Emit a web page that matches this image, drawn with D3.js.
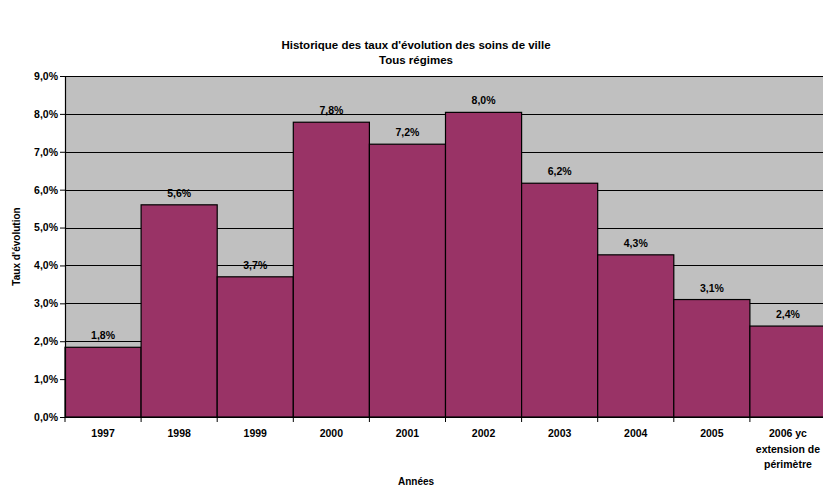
<!DOCTYPE html>
<html>
<head>
<meta charset="utf-8">
<script src="https://cdn.jsdelivr.net/npm/d3@7"></script>
<style>
body { margin: 0; background: #fff; }
svg { font-family: "Liberation Sans", Arial, sans-serif; }
</style>
</head>
<body>
<div id="chart"></div>
<script>
// chart data
var years = ["1997", "1998", "1999", "2000", "2001", "2002", "2003", "2004", "2005", "2006 yc extension de périmètre"];
var rates = [1.84, 5.6, 3.7, 7.78, 7.2, 8.04, 6.17, 4.28, 3.1, 2.4];
var labels = ["1,8%", "5,6%", "3,7%", "7,8%", "7,2%", "8,0%", "6,2%", "4,3%", "3,1%", "2,4%"];
var yTicks = [0, 1, 2, 3, 4, 5, 6, 7, 8, 9];

var W = 823, H = 488;
var margin = {top: 76, right: -3, bottom: 71, left: 65};
var width = W - margin.left - margin.right;
var height = H - margin.top - margin.bottom;

var svg = d3.select("#chart").append("svg")
    .attr("width", W)
    .attr("height", H);

var g = svg.append("g").attr("transform", "translate(" + margin.left + "," + margin.top + ")");

var x = d3.scaleBand()
    .domain(years)
    .range([0, width])
    .padding(0);

var y = d3.scaleLinear()
    .domain([0, 9])
    .range([height, 0]);

// plot background
g.append("rect")
    .attr("width", width)
    .attr("height", height)
    .attr("fill", "#c0c0c0");

// gridlines
g.append("g")
    .selectAll("line")
    .data(yTicks.slice(1))
    .enter().append("line")
    .attr("x1", 0)
    .attr("x2", width)
    .attr("y1", function(d) { return Math.round(y(d)) + 0.5; })
    .attr("y2", function(d) { return Math.round(y(d)) + 0.5; })
    .attr("stroke", "#000")
    .attr("stroke-width", 1);

// bars
g.append("g")
    .selectAll("rect")
    .data(rates)
    .enter().append("rect")
    .attr("x", function(d, i) { return x(years[i]); })
    .attr("y", function(d) { return y(d); })
    .attr("width", x.bandwidth())
    .attr("height", function(d) { return height - y(d); })
    .attr("fill", "#993366")
    .attr("stroke", "#000")
    .attr("stroke-width", 1.2);

// value labels
g.append("g")
    .selectAll("text")
    .data(rates)
    .enter().append("text")
    .attr("x", function(d, i) { return x(years[i]) + x.bandwidth() / 2; })
    .attr("y", function(d) { return y(d) - 8; })
    .attr("text-anchor", "middle")
    .attr("font-size", "10.5px")
    .attr("font-weight", "bold")
    .attr("fill", "#000")
    .text(function(d, i) { return labels[i]; });

// y axis
var yAxis = g.append("g")
    .call(d3.axisLeft(y)
        .tickValues(yTicks)
        .tickSize(5)
        .tickFormat(function(d) { return d.toFixed(1).replace(".", ",") + "%"; }));
yAxis.select(".domain").attr("stroke", "#000").attr("stroke-width", 1.2);
yAxis.selectAll("text")
    .attr("font-size", "10.5px")
    .attr("font-weight", "bold")
    .attr("font-family", "Liberation Sans, Arial, sans-serif")
    .attr("x", -7);

// x axis
var xAxis = g.append("g")
    .attr("transform", "translate(0," + height + ")")
    .call(d3.axisBottom(x).tickSize(0).tickFormat(""));
xAxis.select(".domain").attr("stroke", "#000").attr("stroke-width", 1.2);

// x tick marks between categories
xAxis.selectAll(".sep")
    .data(years)
    .enter().append("line")
    .attr("class", "sep")
    .attr("x1", function(d) { return x(d); })
    .attr("x2", function(d) { return x(d); })
    .attr("y1", 0)
    .attr("y2", 5)
    .attr("stroke", "#000");

// x tick labels (wrapped)
var xLabelLines = {
    "2006 yc extension de périmètre": ["2006 yc", "extension de", "périmètre"]
};
years.forEach(function(yr) {
    var lines = xLabelLines[yr] || [yr];
    var t = xAxis.append("text")
        .attr("x", x(yr) + x.bandwidth() / 2)
        .attr("y", 20)
        .attr("text-anchor", "middle")
        .attr("font-size", "10.5px")
        .attr("font-weight", "bold")
        .attr("fill", "#000");
    lines.forEach(function(l, i) {
        t.append("tspan")
            .attr("x", x(yr) + x.bandwidth() / 2)
            .attr("dy", i === 0 ? 0 : 15.5)
            .text(l);
    });
});

// titles
svg.append("text")
    .attr("x", 416)
    .attr("y", 49)
    .attr("text-anchor", "middle")
    .attr("font-size", "11.5px")
    .attr("font-weight", "bold")
    .text("Historique des taux d'évolution des soins de ville");
svg.append("text")
    .attr("x", 416)
    .attr("y", 64)
    .attr("text-anchor", "middle")
    .attr("font-size", "11.5px")
    .attr("font-weight", "bold")
    .text("Tous régimes");

// axis labels
svg.append("text")
    .attr("transform", "translate(20," + (margin.top + height / 2) + ") rotate(-90)")
    .attr("text-anchor", "middle")
    .attr("font-size", "10px")
    .attr("font-weight", "bold")
    .text("Taux d'évolution");

svg.append("text")
    .attr("x", 416)
    .attr("y", 485)
    .attr("text-anchor", "middle")
    .attr("font-size", "10px")
    .attr("font-weight", "bold")
    .text("Années");
</script>
</body>
</html>
